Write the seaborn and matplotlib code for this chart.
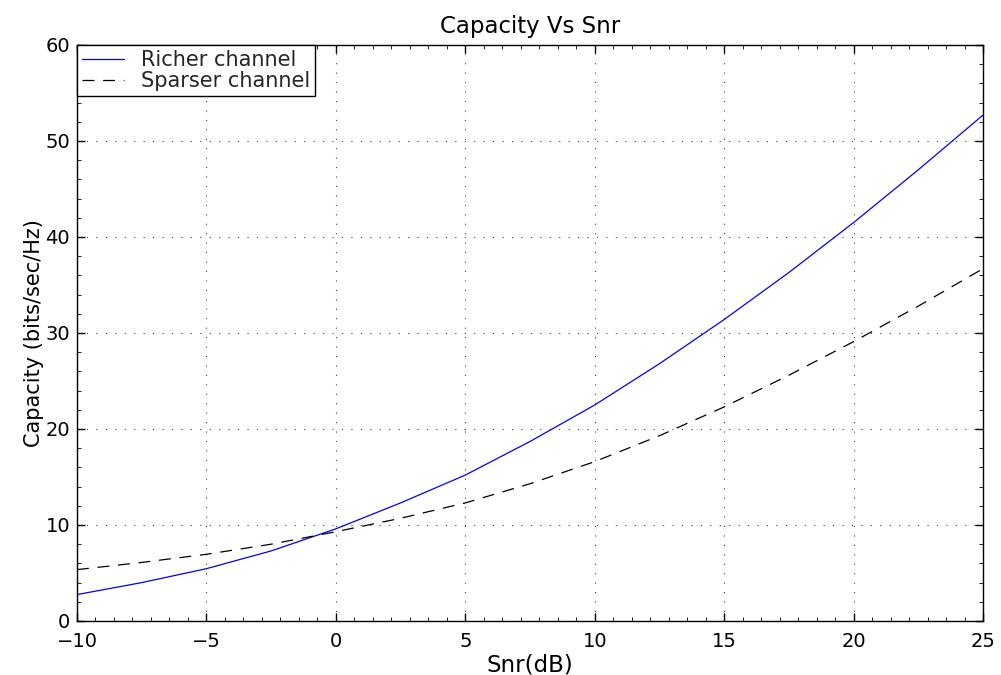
import matplotlib
matplotlib.use("Agg")
import matplotlib.pyplot as plt
from matplotlib.ticker import MultipleLocator
import seaborn as sns
import pandas as pd

snr_db = [-10, -7.5, -5, -2.5, 0, 2.5, 5, 7.5, 10, 12.5, 15, 17.5, 20, 22.5, 25]
richer = [2.75, 4.0, 5.45, 7.3, 9.6, 12.3, 15.2, 18.7, 22.5, 26.8, 31.4, 36.3, 41.5, 47.0, 52.7]
sparser = [5.35, 6.1, 6.95, 8.0, 9.3, 10.7, 12.3, 14.3, 16.6, 19.3, 22.3, 25.6, 29.1, 32.8, 36.7]
series_names = ["Richer channel", "Sparser channel"]
x_ticks = [-10, -5, 0, 5, 10, 15, 20, 25]
y_ticks = [0, 10, 20, 30, 40, 50, 60]

sns.set_theme(style="white")
plt.rcParams['font.family'] = ['DejaVu Sans']

df = pd.DataFrame({
    "snr": snr_db * 2,
    "cap": richer + sparser,
    "series": [series_names[0]] * len(snr_db) + [series_names[1]] * len(snr_db),
})

fig = plt.figure(figsize=(10.01, 6.75), dpi=100)
ax = fig.add_axes([77 / 1001, 54 / 675, 906 / 1001, 576 / 675])

sns.lineplot(data=df, x="snr", y="cap", hue="series", style="series",
             palette={series_names[0]: "#0000ff", series_names[1]: "black"},
             dashes={series_names[0]: "", series_names[1]: (9.5, 7)},
             linewidth=0.9, ax=ax, legend=True)

ax.set_xlim(-10, 25)
ax.set_ylim(0, 60)
ax.set_xticks(x_ticks)
ax.set_yticks(y_ticks)
ax.set_xticklabels([str(t).replace("-", "\u2212") for t in x_ticks])
ax.xaxis.set_minor_locator(MultipleLocator(5 / 7))
ax.yaxis.set_minor_locator(MultipleLocator(2))
ax.tick_params(which="major", direction="in", length=6, width=1, top=True, right=True,
               labelsize=14, color="black", labelcolor="black",
               bottom=True, left=True)
ax.tick_params(axis="x", which="major", pad=8)
ax.tick_params(axis="y", which="major", pad=5)
ax.tick_params(which="minor", direction="in", length=3, width=0.6, top=True, right=True,
               bottom=True, left=True, color="black")
ax.grid(True, which="major", linestyle=(0, (1, 7.5)), color="#444444", linewidth=0.8)
for s in ax.spines.values():
    s.set_visible(True)
    s.set_color("black")
    s.set_linewidth(1.0)

ax.set_title("Capacity Vs Snr", fontsize=16.5, color="black", pad=9)
ax.set_xlabel("Snr(dB)", fontsize=16.5, color="black", labelpad=2)
ax.set_ylabel("Capacity (bits/sec/Hz)", fontsize=15, color="black", labelpad=1)

leg = ax.legend(loc="upper left", borderaxespad=0, fontsize=15, frameon=True,
                fancybox=False, edgecolor="black", handlelength=2.0,
                borderpad=0.25, labelspacing=0.05, handletextpad=0.8)
leg.get_frame().set_linewidth(1.0)
leg.get_frame().set_alpha(1)

fig.savefig("out.png", dpi=100, facecolor="white")
